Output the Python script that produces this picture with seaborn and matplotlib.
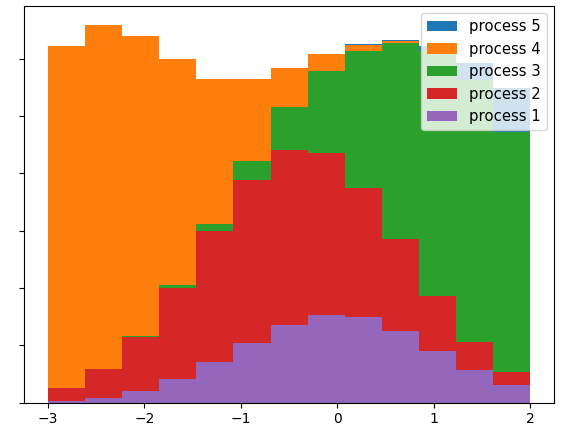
import numpy as np
import pandas as pd
import seaborn as sns
import matplotlib
matplotlib.use("Agg")
import matplotlib.pyplot as plt

# bin edges of the 13 bins between -3 and 2
bin_edges = np.linspace(-3, 2, 14)
bin_centers = (bin_edges[:-1] + bin_edges[1:]) / 2

# counts per bin
process_1 = [3, 9, 20, 41, 71, 104, 136, 153, 149, 125, 91, 57, 31]
process_2 = [22, 49, 95, 159, 228, 284, 304, 282, 226, 160, 95, 49, 23]
process_3 = [0, 1, 2, 5, 12, 34, 75, 144, 239, 342, 427, 456, 419]
process_4 = [597, 600, 522, 394, 254, 142, 69, 30, 9, 3, 1, 0, 0]
process_5 = [0, 0, 0, 0, 0, 0, 0, 0, 2, 3, 8, 31, 76]

series = {
    "process 5": process_5,
    "process 4": process_4,
    "process 3": process_3,
    "process 2": process_2,
    "process 1": process_1,
}

rows = []
for name, counts in series.items():
    for c, n in zip(bin_centers, counts):
        rows.append({"x": c, "count": n, "process": name})
df = pd.DataFrame(rows)

fig, ax = plt.subplots(figsize=(5.66, 4.26), dpi=100)
fig.subplots_adjust(left=0.0424, right=0.979, top=0.986, bottom=0.0547)

sns.histplot(data=df, x="x", weights="count", hue="process",
             hue_order=list(series.keys()), bins=list(bin_edges),
             multiple="stack", element="step", alpha=1, linewidth=0,
             palette="tab10", ax=ax)

sns.move_legend(ax, "upper right", title=None, fontsize=10.7)
ax.set_xlabel("")
ax.set_ylabel("")
ax.tick_params(axis="y", labelleft=False)

plt.savefig("out.png", dpi=100)
plt.close()
